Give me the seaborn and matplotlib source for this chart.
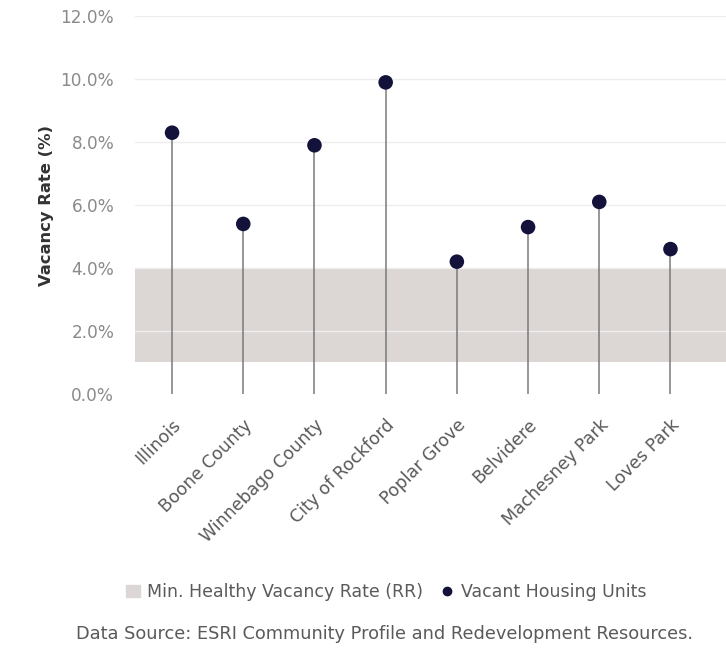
import matplotlib
matplotlib.use("Agg")
import matplotlib.pyplot as plt
import seaborn as sns
import pandas as pd
from matplotlib.lines import Line2D
from matplotlib.patches import Patch

# data
places = ["Illinois", "Boone County", "Winnebago County", "City of Rockford",
          "Poplar Grove", "Belvidere", "Machesney Park", "Loves Park"]
vacancy = [8.3, 5.4, 7.9, 9.9, 4.2, 5.3, 6.1, 4.6]
healthy_low = 1.0
healthy_high = 4.0
y_ticks = [0, 2, 4, 6, 8, 10, 12]

df = pd.DataFrame({"place": places, "vacancy": vacancy})
df["pos"] = range(len(df))

sns.set_style("white")
plt.rcParams["font.family"] = ["DejaVu Sans"]

fig = plt.figure(figsize=(7.26, 6.52), dpi=100)
ax = fig.add_axes([0.186, 0.396, 0.814, 0.579])

# healthy vacancy band
ax.axhspan(healthy_low, healthy_high, color="#dcd6d4", zorder=0, lw=0)
for t in y_ticks[1:]:
    ax.axhline(t, color="#eeeeee", lw=1, zorder=0)

# stems
ax.vlines(df["pos"], 0, df["vacancy"], color="#7a7a7a", lw=1.1, zorder=2)
sns.scatterplot(data=df, x="pos", y="vacancy", ax=ax, color="#12123a",
                s=110, edgecolor="none", zorder=3, legend=False)

ax.set_xlim(-0.52, 7.78)
ax.set_ylim(0, 12)
ax.set_yticks(y_ticks)
ax.set_yticklabels([f"{t:.1f}%" for t in y_ticks], color="#8a8a8a", fontsize=12.2)
ax.set_xticks(df["pos"])
ax.set_xticklabels(df["place"], rotation=45, ha="right", rotation_mode="anchor",
                   color="#5a5a5a", fontsize=12.5)
ax.tick_params(axis="x", length=0, pad=16)
ax.tick_params(axis="y", length=0, pad=15)
ax.set_xlabel("")
ax.set_ylabel("Vacancy Rate (%)", fontsize=11.8, fontweight="bold", color="#333333", labelpad=5)
sns.despine(ax=ax, left=True, bottom=True)

handles = [Patch(color="#dcd6d4", label="Min. Healthy Vacancy Rate (RR)"),
           Line2D([], [], marker="o", ls="", color="#12123a", markersize=6,
                  label="Vacant Housing Units")]
fig.legend(handles=handles, loc="center", bbox_to_anchor=(0.532, 0.092), ncol=2,
           frameon=False, fontsize=12.5, handlelength=0.8, handletextpad=0.4,
           columnspacing=1.0, labelcolor="#5a5a5a")
fig.text(0.53, 0.027, "Data Source: ESRI Community Profile and Redevelopment Resources.",
         ha="center", va="center", fontsize=12.8, color="#5a5a5a")

fig.savefig("out.png", dpi=100)
